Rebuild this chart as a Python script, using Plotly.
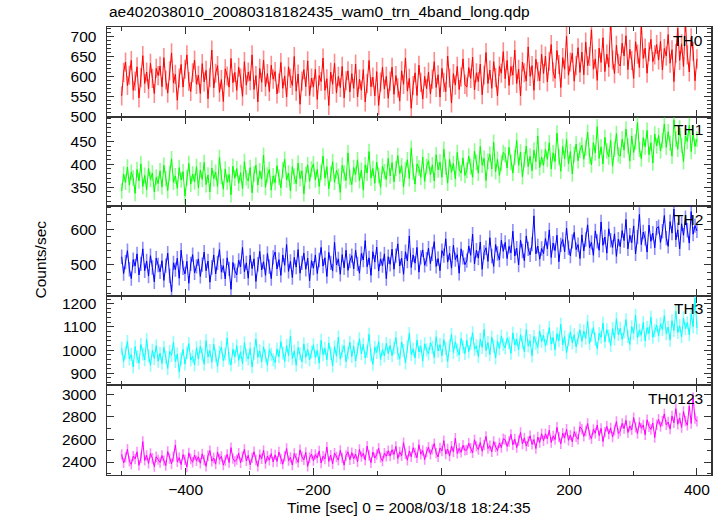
import plotly.graph_objects as go
from plotly.subplots import make_subplots

TITLE = "ae402038010_20080318182435_wam0_trn_4band_long.qdp"
X_TITLE = "Time [sec] 0 = 2008/03/18 18:24:35"
Y_TITLE = "Counts/sec"

# time bins (sec), 3 s per bin
T_START, T_BIN = -500, 3

band_names = ["TH0", "TH1", "TH2", "TH3", "TH0123"]

th0 = [552, 611, 637, 578, 604, 641, 566, 589, 625, 547, 598, 653, 583, 612, 570, 634, 596, 558, 621, 603,
       627, 575, 648, 592, 559, 615, 660, 584, 606, 541, 597, 631, 574, 619, 655, 588, 563, 610, 642, 581,
       604, 558, 633, 587, 616, 545, 598, 667, 572, 609, 628, 561, 593, 538, 620, 602, 574, 646, 585, 611,
       566, 624, 597, 551, 638, 579, 612, 590, 655, 568, 603, 537, 621, 586, 642, 575, 608, 563, 629, 594,
       613, 557, 584, 636, 571, 602, 549, 625, 596, 578, 651, 564, 607, 531, 589, 618, 575, 640, 553, 597,
       574, 619, 543, 603, 588, 647, 566, 595, 528, 612, 581, 634, 559, 601, 573, 626, 547, 590, 615, 562,
       608, 571, 632, 549, 594, 566, 618, 537, 583, 641, 575, 599, 552, 613, 528, 587, 624, 569, 601, 546,
       589, 624, 556, 603, 572, 539, 615, 581, 647, 564, 596, 521, 578, 610, 553, 629, 586, 544, 601, 570,
       612, 557, 594, 638, 573, 605, 549, 621, 586, 563, 652, 597, 534, 608, 579, 626, 568, 599, 645, 581,
       574, 623, 596, 649, 567, 610, 588, 632, 555, 604, 661, 583, 617, 571, 638, 598, 552, 626, 609, 663,
       595, 641, 578, 626, 604, 667, 583, 619, 552, 637, 610, 589, 675, 601, 628, 566, 644, 613, 590, 657,
       608, 652, 587, 639, 681, 612, 596, 666, 631, 573, 648, 619, 702, 604, 637, 659, 589, 628, 673, 611,
       662, 605, 687, 628, 651, 718, 619, 645, 591, 672, 636, 698, 613, 657, 624, 741, 642, 608, 679, 633,
       627, 684, 652, 703, 618, 669, 641, 596, 688, 657, 623, 731, 646, 672, 609, 663, 694, 638, 655, 681,
       642, 689, 617, 671, 652, 706, 634, 668, 588, 659, 722, 641, 683, 626, 737, 655, 612, 698, 664, 590,
       645]

th1 = [342, 379, 361, 394, 355, 383, 370, 337, 389, 364, 401, 352, 376, 345, 391, 367, 381, 340, 372, 358,
       386, 351, 398, 369, 343, 380, 412, 361, 375, 348, 393, 366, 384, 331, 371, 402, 357, 379, 362, 395,
       349, 388, 367, 404, 356, 377, 340, 392, 369, 383, 352, 415, 373, 346, 390, 361, 378, 334, 396, 370,
       391, 359, 382, 347, 406, 371, 364, 393, 338, 379, 398, 355, 386, 368, 420, 350, 377, 389, 344, 375,
       360, 397, 372, 349, 388, 411, 366, 381, 342, 395, 374, 358, 403, 369, 386, 336, 378, 399, 363, 390,
       401, 366, 389, 352, 383, 418, 370, 395, 347, 379, 406, 361, 387, 374, 339, 398, 381, 365, 425, 372,
       356, 393, 378, 410, 365, 387, 344, 399, 381, 428, 370, 391, 359, 405, 376, 350, 396, 384, 367, 413,
       375, 404, 362, 391, 419, 380, 397, 351, 388, 410, 369, 435, 383, 357, 401, 392, 372, 416, 363, 395,
       408, 377, 399, 364, 421, 388, 405, 372, 433, 394, 359, 411, 383, 402, 368, 426, 390, 381, 414, 376,
       387, 418, 395, 372, 429, 404, 381, 439, 398, 413, 365, 407, 422, 390, 448, 384, 411, 376, 403, 426,
       421, 392, 437, 404, 381, 415, 452, 398, 427, 373, 410, 440, 395, 418, 386, 431, 406, 462, 393, 416,
       398, 433, 411, 447, 390, 425, 406, 468, 417, 385, 439, 412, 454, 401, 428, 379, 421, 444, 408, 431,
       442, 411, 436, 470, 418, 399, 447, 425, 482, 413, 438, 401, 459, 429, 416, 452, 396, 433, 467, 421,
       418, 455, 431, 477, 440, 407, 462, 426, 449, 491, 433, 412, 458, 438, 474, 421, 447, 403, 466, 440,
       463, 429, 452, 488, 437, 471, 446, 418, 497, 455, 433, 479, 441, 406, 462, 450, 485, 428, 468, 439,
       455]

th2 = [523, 476, 508, 540, 488, 462, 515, 497, 531, 472, 503, 545, 484, 511, 469, 526, 493, 453, 519, 500,
       481, 512, 457, 498, 533, 470, 425, 506, 487, 519, 463, 541, 492, 475, 510, 449, 503, 529, 478, 496,
       517, 468, 501, 536, 484, 511, 452, 493, 528, 475, 506, 543, 480, 498, 461, 520, 489, 432, 507, 484,
       472, 513, 495, 549, 481, 506, 463, 527, 490, 517, 454, 502, 538, 486, 509, 471, 532, 495, 462, 521,
       536, 489, 515, 471, 528, 499, 557, 482, 510, 465, 521, 494, 543, 477, 506, 533, 488, 519, 456, 512,
       491, 528, 476, 514, 549, 497, 520, 468, 535, 506, 483, 563, 500, 517, 474, 529, 492, 541, 485, 511,
       526, 489, 541, 503, 477, 532, 514, 568, 495, 520, 471, 537, 508, 550, 483, 517, 498, 531, 462, 523,
       502, 544, 488, 526, 559, 497, 519, 474, 537, 511, 581, 493, 528, 505, 549, 480, 521, 542, 499, 516,
       547, 504, 531, 565, 496, 518, 484, 540, 526, 573, 508, 533, 491, 555, 515, 529, 477, 545, 521, 501,
       512, 553, 527, 586, 503, 541, 519, 564, 488, 535, 548, 510, 576, 525, 496, 557, 532, 514, 569, 538,
       563, 518, 552, 534, 594, 525, 547, 500, 569, 539, 512, 581, 545, 528, 558, 637, 531, 553, 516, 546,
       532, 574, 545, 598, 521, 561, 540, 583, 509, 556, 571, 537, 603, 548, 525, 566, 591, 543, 557, 518,
       584, 539, 571, 612, 548, 563, 527, 595, 566, 541, 620, 555, 578, 533, 601, 569, 549, 587, 524, 572,
       551, 596, 568, 627, 545, 583, 562, 609, 531, 578, 641, 557, 592, 574, 536, 611, 566, 589, 548, 603,
       607, 563, 594, 638, 575, 552, 621, 589, 656, 570, 598, 545, 615, 583, 632, 597, 561, 649, 586, 610,
       595]

th3 = [1008, 951, 989, 1037, 962, 981, 927, 1015, 970, 944, 1024, 983, 958, 1046, 976, 935, 999, 964, 1019, 952,
       987, 943, 1012, 968, 921, 995, 977, 1034, 951, 983, 906, 962, 1003, 940, 989, 1028, 957, 974, 936, 1010,
       961, 1016, 982, 939, 1041, 970, 998, 948, 1025, 976, 930, 991, 1012, 955, 983, 1052, 964, 937, 1004, 971,
       1019, 956, 993, 941, 1032, 978, 962, 1007, 927, 985, 1048, 969, 997, 950, 1014, 976, 935, 1002, 982, 958,
       946, 1005, 971, 1036, 988, 952, 1019, 977, 1061, 963, 996, 935, 1011, 984, 949, 1027, 969, 1003, 958, 991,
       1023, 967, 999, 944, 1042, 980, 1008, 958, 1031, 987, 932, 1015, 974, 1056, 961, 996, 1019, 950, 988, 1034,
       972, 1017, 953, 1006, 1049, 984, 1025, 966, 995, 1068, 978, 939, 1012, 990, 1037, 960, 1003, 975, 1029, 985,
       1021, 976, 1009, 1054, 987, 961, 1035, 998, 945, 1016, 1072, 981, 1004, 966, 1043, 992, 1018, 953, 1027, 1000,
       983, 1031, 1012, 968, 1058, 996, 1024, 975, 1045, 1007, 951, 1019, 1067, 990, 1036, 1001, 979, 1050, 1014, 985,
       1042, 993, 1028, 1075, 1004, 1019, 972, 1047, 1011, 1089, 998, 1033, 981, 1056, 1017, 966, 1039, 1006, 1061, 1024,
       1009, 1052, 1031, 986, 1074, 1022, 1047, 1001, 1066, 1034, 993, 1088, 1018, 1041, 975, 1059, 1030, 1012, 1082, 1037,
       1063, 1018, 1049, 1097, 1026, 1055, 1002, 1071, 1040, 1111, 1023, 1058, 989, 1045, 1079, 1031, 1066, 1014, 1052, 1087,
       1038, 1082, 1051, 1124, 1029, 1064, 1097, 1046, 1007, 1072, 1055, 1116, 1036, 1088, 1061, 1020, 1093, 1049, 1135, 1067,
       1094, 1046, 1078, 1131, 1059, 1025, 1101, 1073, 1150, 1052, 1086, 1064, 1119, 1040, 1097, 1071, 1142, 1055, 1083, 1108,
       1062, 1113, 1089, 1148, 1071, 1099, 1043, 1127, 1084, 1168, 1076, 1105, 1058, 1139, 1092, 1118, 1066, 1157, 1101, 1225,
       1095]

th0123 = [2468, 2392, 2441, 2513, 2406, 2379, 2452, 2427, 2490, 2371, 2435, 2581, 2414, 2459, 2388, 2476, 2433, 2359, 2447, 2421,
          2396, 2457, 2412, 2368, 2493, 2430, 2385, 2449, 2551, 2402, 2438, 2377, 2466, 2419, 2355, 2481, 2427, 2398, 2462, 2411,
          2446, 2389, 2472, 2418, 2362, 2455, 2501, 2407, 2436, 2381, 2489, 2424, 2450, 2372, 2413, 2468, 2395, 2527, 2430, 2404,
          2421, 2478, 2393, 2445, 2512, 2410, 2459, 2376, 2437, 2491, 2418, 2362, 2465, 2429, 2503, 2387, 2452, 2416, 2474, 2400,
          2463, 2405, 2488, 2427, 2381, 2450, 2519, 2412, 2441, 2373, 2476, 2432, 2397, 2508, 2446, 2419, 2485, 2361, 2438, 2470,
          2412, 2466, 2435, 2498, 2391, 2452, 2427, 2532, 2405, 2461, 2383, 2479, 2444, 2416, 2503, 2437, 2372, 2458, 2490, 2420,
          2483, 2429, 2470, 2402, 2511, 2448, 2476, 2418, 2541, 2457, 2394, 2488, 2435, 2466, 2522, 2441, 2408, 2479, 2451, 2500,
          2452, 2509, 2467, 2538, 2431, 2490, 2455, 2571, 2473, 2416, 2498, 2446, 2527, 2481, 2438, 2553, 2469, 2502, 2421, 2488,
          2531, 2468, 2512, 2563, 2479, 2445, 2524, 2497, 2589, 2470, 2515, 2452, 2541, 2490, 2610, 2476, 2520, 2486, 2548, 2503,
          2507, 2566, 2522, 2481, 2597, 2538, 2510, 2573, 2495, 2551, 2627, 2519, 2545, 2490, 2582, 2534, 2501, 2569, 2528, 2606,
          2596, 2538, 2581, 2644, 2552, 2603, 2527, 2589, 2661, 2560, 2614, 2541, 2579, 2632, 2556, 2598, 2519, 2621, 2573, 2650,
          2588, 2649, 2604, 2681, 2573, 2631, 2598, 2707, 2620, 2561, 2655, 2612, 2690, 2592, 2638, 2578, 2669, 2624, 2601, 2712,
          2691, 2627, 2674, 2741, 2642, 2606, 2689, 2655, 2727, 2633, 2698, 2581, 2664, 2716, 2648, 2702, 2621, 2680, 2758, 2652,
          2673, 2742, 2696, 2768, 2661, 2719, 2684, 2793, 2707, 2651, 2751, 2699, 2728, 2640, 2774, 2712, 2688, 2745, 2617, 2730,
          2778, 2713, 2761, 2826, 2729, 2754, 2691, 2808, 2747, 2872, 2734, 2790, 2706, 2848, 2762, 2725, 2895, 2741, 2969, 2785,
          2760]

# 1-sigma errors per band (counts/sec)
band_errors = [24, 17, 20, 28, 46]

series = [th0, th1, th2, th3, th0123]

# y-axis settings per panel
y_ranges = [[500, 725], [309, 504], [414, 664], [848, 1234], [2285, 3078]]
y_tickvals = [[500, 550, 600, 650, 700], [350, 400, 450], [500, 600],
              [900, 1000, 1100, 1200], [2400, 2600, 2800, 3000]]
y_minor = [10, 10, 20, 20, 100]

line_colors = ["#ff0000", "#00ff00", "#0000ff", "#00ffff", "#ff00ff"]
err_colors = ["rgba(255,0,0,0.45)", "rgba(0,255,0,0.45)", "rgba(0,0,255,0.45)",
              "rgba(0,255,255,0.45)", "rgba(255,0,255,0.45)"]

FONT = "Liberation Sans, Arial, Helvetica, sans-serif"
FS = 15.5

fig = make_subplots(rows=5, cols=1, shared_xaxes=True, vertical_spacing=0)

for i, (name, vals) in enumerate(zip(band_names, series)):
    t = [T_START + T_BIN * k for k in range(len(vals))]
    fig.add_trace(go.Scatter(
        x=t, y=vals, mode="lines", name=name,
        line=dict(color=line_colors[i], width=1),
        error_y=dict(type="constant", value=band_errors[i], color=err_colors[i],
                     thickness=1.6, width=0),
        showlegend=False, hoverinfo="skip"), row=i + 1, col=1)

    fig.update_yaxes(
        row=i + 1, col=1, range=y_ranges[i], tickvals=y_tickvals[i],
        ticks="inside", ticklen=7, tickwidth=1, tickcolor="#333",
        mirror="allticks", showline=True, linecolor="#333", linewidth=1.5,
        showgrid=False, zeroline=False, ticklabelstandoff=6,
        tickfont=dict(family=FONT, size=FS, color="black"),
        minor=dict(dtick=y_minor[i], ticks="inside", ticklen=4, tickcolor="#333",
                   showgrid=False))
    fig.update_xaxes(
        row=i + 1, col=1, range=[-523, 422], dtick=200, tick0=0,
        ticks="inside", ticklen=7, tickwidth=1, tickcolor="#333",
        mirror="allticks", showline=True, linecolor="#333", linewidth=1,
        showgrid=False, zeroline=False, showticklabels=(i == 4),
        tickfont=dict(family=FONT, size=FS, color="black"),
        minor=dict(dtick=100, ticks="inside", ticklen=4, tickcolor="#333",
                   showgrid=False))

    axis_sfx = "" if i == 0 else str(i + 1)
    fig.add_annotation(
        text=name, xref=f"x{axis_sfx} domain", yref=f"y{axis_sfx} domain",
        x=0.99, y=0.97, xanchor="right", yanchor="top", showarrow=False,
        font=dict(family=FONT, size=FS, color="black"))

fig.add_annotation(text=TITLE, xref="paper", yref="paper", x=0, y=1.034,
                   xanchor="left", yanchor="middle", showarrow=False,
                   font=dict(family=FONT, size=FS, color="black"))
fig.add_annotation(text=Y_TITLE, xref="paper", yref="paper", x=-0.11, y=0.48,
                   xanchor="center", yanchor="middle", textangle=-90, showarrow=False,
                   font=dict(family=FONT, size=FS, color="black"))
fig.add_annotation(text=X_TITLE, xref="paper", yref="paper", x=0.5, y=-0.072,
                   xanchor="center", yanchor="middle", showarrow=False,
                   font=dict(family=FONT, size=FS, color="black"))

fig.update_layout(
    width=724, height=516,
    margin=dict(l=107, r=11, t=27, b=41),
    paper_bgcolor="white", plot_bgcolor="white",
    font=dict(family=FONT, size=FS, color="black"),
    hovermode=False,
)

# remove the browser's default 8px body margin so the figure fills the window
fig.write_html("out.html",
               config={"displayModeBar": False, "staticPlot": True},
               post_script="document.body.style.margin='0';"
                           "document.body.style.overflow='hidden';")
